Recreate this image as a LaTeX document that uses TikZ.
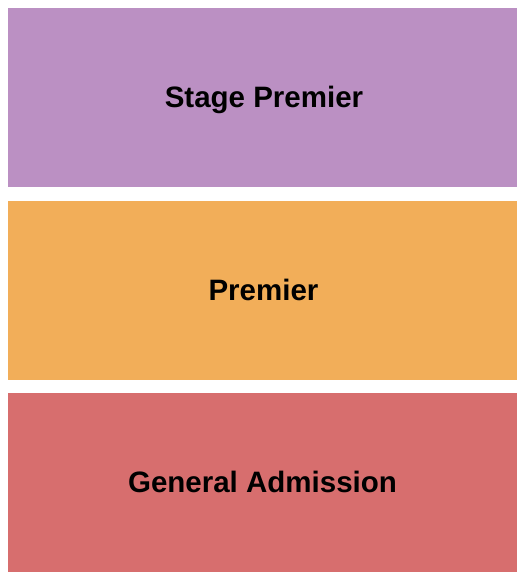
\documentclass[tikz,border=0pt]{standalone}
\usepackage{fontspec}
\setmainfont{Liberation Sans}
\definecolor{stagec}{RGB}{187,144,195}
\definecolor{premc}{RGB}{242,174,89}
\definecolor{genc}{RGB}{215,110,110}
\begin{document}
\begin{tikzpicture}[x=1pt,y=1pt,
  section/.style={draw=none,minimum width=509pt,minimum height=179pt,inner sep=0pt},
  sectlabel/.style={anchor=base,inner sep=0pt,font=\fontsize{29.5}{34}\selectfont\bfseries,text=black}]
\useasboundingbox (0,0) rectangle (525,-580);
\node[section,fill=stagec] (stage) at (262.5,-97.5) {};
\node[section,fill=premc] (prem) at (262.5,-290.5) {};
\node[section,fill=genc] (gen) at (262.5,-482.5) {};
\node[sectlabel] (stagetext) at (264,-107.3) {Stage Premier};
\node[sectlabel] (premtext) at (263.5,-300) {Premier};
\node[sectlabel] (gentext) at (262.5,-492) {General Admission};
\end{tikzpicture}
\end{document}
